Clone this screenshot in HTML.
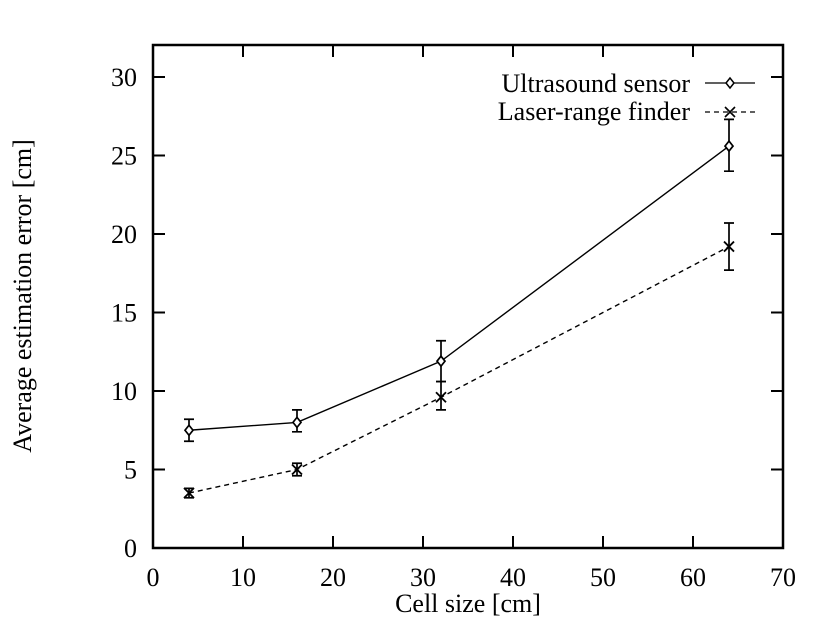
<!DOCTYPE html>
<html><head><meta charset="utf-8"><style>
body{margin:0;background:#fff;}
svg text{font-family:"Liberation Serif",serif;fill:#000;}
</style></head><body>
<svg width="820" height="624" id="svg">
<rect x="153" y="45" width="630" height="503" fill="none" stroke="#000" stroke-width="2.5"/>
<g id="axes"></g><g id="series"></g>
<text x="468" y="612" font-size="26" text-anchor="middle">Cell size [cm]</text>
<text transform="translate(31,296) rotate(-90)" font-size="26" text-anchor="middle">Average estimation error [cm]</text>
<g>
<text x="690" y="92" font-size="26" text-anchor="end">Ultrasound sensor</text>
<line x1="705" y1="83" x2="755" y2="83" stroke="#000" stroke-width="1.3"/>
<path d="M730 78 L734 83 L730 88 L726 83 Z" fill="#fff" stroke="#000" stroke-width="1.5"/>
<text x="690" y="120" font-size="26" text-anchor="end">Laser-range finder</text>
<line x1="705" y1="112" x2="755" y2="112" stroke="#000" stroke-width="1.3" stroke-dasharray="5,4"/>
<path d="M725 107 L735 117 M735 107 L725 117" stroke="#000" stroke-width="1.6"/>
</g>
</svg>
<script>
const xTicks=[0,10,20,30,40,50,60,70];
const yTicks=[0,5,10,15,20,25,30];
const cellSizes=[4,16,32,64];
const ultraVals=[7.5,8.0,11.9,25.6];
const ultraLo=[6.8,7.4,10.6,24.0];
const ultraHi=[8.2,8.8,13.2,27.3];
const laserVals=[3.5,5.0,9.6,19.2];
const laserLo=[3.2,4.6,8.8,17.7];
const laserHi=[3.8,5.4,10.6,20.7];
const NS="http://www.w3.org/2000/svg";
const X=v=>153+9*v, Y=v=>548-15.7*v;
function mk(t,a,p){const e=document.createElementNS(NS,t);for(const k in a)e.setAttribute(k,a[k]);p.appendChild(e);return e;}
const ax=document.getElementById('axes'), sg=document.getElementById('series');
xTicks.forEach(v=>{
 const g=mk('g',{},ax);
 
 
 if(v>0&&v<70){mk('line',{x1:X(v),y1:548,x2:X(v),y2:536,stroke:'#000','stroke-width':2},g);mk('line',{x1:X(v),y1:45,x2:X(v),y2:57,stroke:'#000','stroke-width':2},g);}
 const t=mk('text',{x:X(v),y:586,'font-size':26,'text-anchor':'middle'},g);t.textContent=v;
});
yTicks.forEach(v=>{
 const g=mk('g',{},ax);
 
 
 if(v>0){mk('line',{x1:153,y1:Y(v),x2:165,y2:Y(v),stroke:'#000','stroke-width':2},g);mk('line',{x1:783,y1:Y(v),x2:771,y2:Y(v),stroke:'#000','stroke-width':2},g);}
 const t=mk('text',{x:137,y:Y(v)+9,'font-size':26,'text-anchor':'end'},g);t.textContent=v;
});
function series(name,vals,lo,hi,dash,marker){
 const g=mk('g',{},sg);
 
 
 const pts=cellSizes.map((c,i)=>X(c)+','+Y(vals[i])).join(' ');
 const pl=mk('polyline',{points:pts,fill:'none',stroke:'#000','stroke-width':1.4},g);
 if(dash)pl.setAttribute('stroke-dasharray','5,4');
 cellSizes.forEach((c,i)=>{
  const x=X(c),y=Y(vals[i]);
  const eb=mk('path',{d:`M${x} ${Y(lo[i])}V${Y(hi[i])}M${x-5} ${Y(lo[i])}H${x+5}M${x-5} ${Y(hi[i])}H${x+5}`,stroke:'#000','stroke-width':1.7,fill:'none'},g);
  
  
  let m;
  if(marker==='d')m=mk('path',{d:`M${x} ${y-5}L${x+4} ${y}L${x} ${y+5}L${x-4} ${y}Z`,fill:'#fff',stroke:'#000','stroke-width':1.7},g);
  else m=mk('path',{d:`M${x-5} ${y-5}L${x+5} ${y+5}M${x+5} ${y-5}L${x-5} ${y+5}`,stroke:'#000','stroke-width':1.8},g);
  
  
 });
}
series('ultrasound',ultraVals,ultraLo,ultraHi,false,'d');
series('laser',laserVals,laserLo,laserHi,true,'x');
</script>
</body></html>
